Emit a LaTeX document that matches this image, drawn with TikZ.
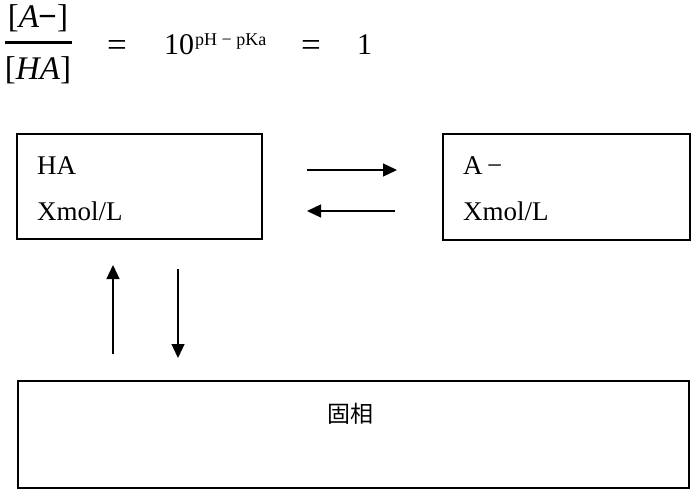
\documentclass[tikz,border=0pt]{standalone}
\usepackage{fontspec}
\setmainfont{Liberation Serif}
\newfontfamily\cjk{Noto Sans CJK JP}
\usetikzlibrary{arrows.meta}
\begin{document}
\begin{tikzpicture}[x=1pt,y=-1pt,
  boxst/.style={draw,line width=2pt,inner sep=0pt},
  lbl/.style={anchor=base west,inner sep=0pt,font=\fontsize{27}{30}\selectfont},
  eq/.style={inner sep=0pt,anchor=base,font=\fontsize{30}{34}\selectfont},
  eqsign/.style={inner sep=0pt,anchor=base,font=\fontsize{35}{38}\selectfont},
  frac/.style={inner sep=0pt,anchor=base,font=\fontsize{33}{36}\selectfont},
  arr/.style={line width=1.3pt,-{Triangle[length=14pt,width=13pt]}}]
\useasboundingbox (0,0) rectangle (700,494);
% equation
\node[frac] (num) at (38,28) {[\textit{A}\kern-1pt\textbf{−}]};
\node[frac] (den) at (38,80) {[\textit{HA}]};
\coordinate (barl) at (5,43);
\coordinate (barr) at (72,43);
\draw[line width=3pt] (barl) -- (barr);
\node[eqsign] (eq1) at (117,57) {=};
\node[eq,anchor=base west] (ten) at (164,55) {10};
\node[inner sep=0pt,anchor=base west,font=\fontsize{18}{20}\selectfont] (sup) at (195,46) {pH − pKa};
\node[eqsign] (eq2) at (311,57) {=};
\node[eq,anchor=base west] (one) at (357,55) {1};
% boxes
\node[boxst,minimum width=245pt,minimum height=105pt] (b1) at (139.5,186.5) {};
\node[boxst,minimum width=247pt,minimum height=106pt] (b2) at (566.5,187) {};
\node[boxst,minimum width=671pt,minimum height=107pt] (b3) at (353.5,434.5) {};
\node[lbl] (t1) at (37,175) {HA};
\node[lbl] (t2) at (37,220) {Xmol/L};
\node[lbl] (t3) at (463,175) {A\,−};
\node[lbl] (t4) at (463,220) {Xmol/L};
\node[inner sep=0pt,font=\cjk\fontsize{23}{26}\selectfont] (t5) at (350.5,413.5) {固相};
% arrows
\coordinate (r1) at (307,170);
\coordinate (r2) at (397,170);
\coordinate (l1) at (395,211);
\coordinate (l2) at (307,211);
\coordinate (u1) at (113,354);
\coordinate (u2) at (113,265);
\coordinate (d1) at (178,269);
\coordinate (d2) at (178,358);
\draw[arr] (r1) -- (r2);
\draw[arr] (l1) -- (l2);
\draw[arr] (u1) -- (u2);
\draw[arr] (d1) -- (d2);
\end{tikzpicture}
\end{document}
